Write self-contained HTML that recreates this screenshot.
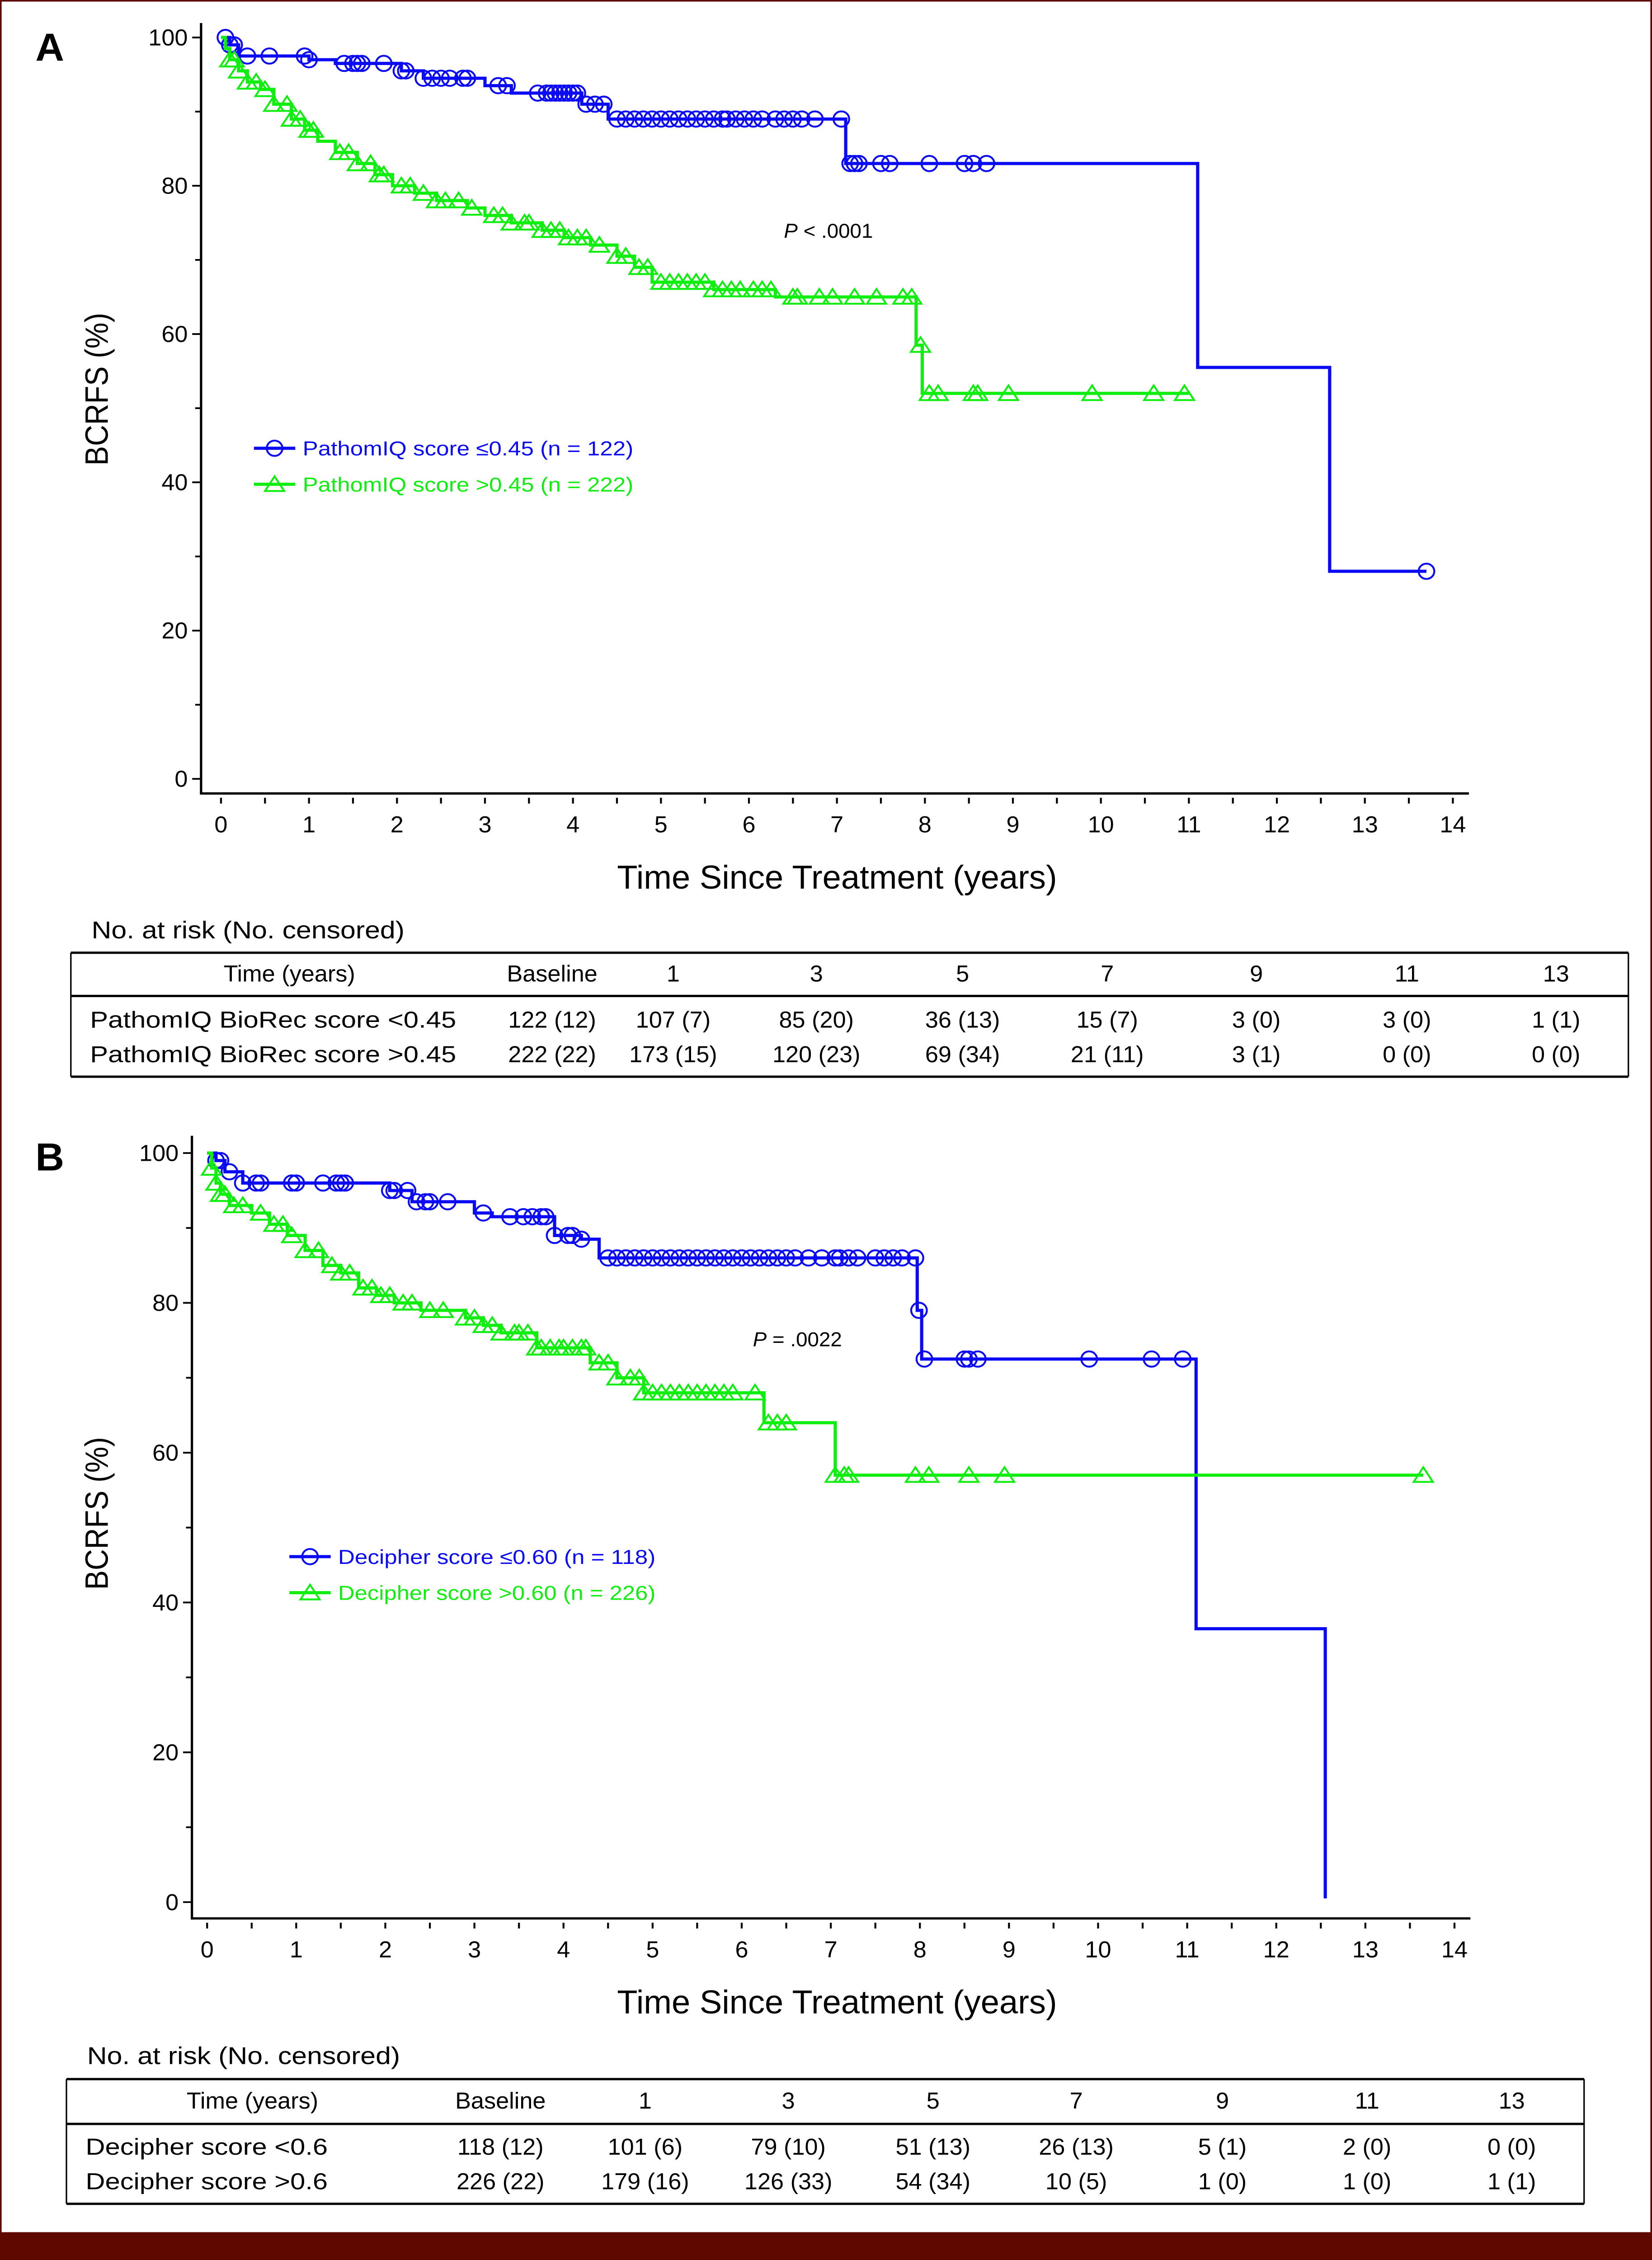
<!DOCTYPE html>
<html><head><meta charset="utf-8"><style>
html,body{margin:0;padding:0;background:#fff;width:100%;height:100%;overflow:hidden;}
svg{display:block;position:fixed;left:0;top:0;width:100vw;height:100vh;font-family:"Liberation Sans",sans-serif;}
</style></head><body>
<svg id="fig" viewBox="0 0 1119 1568" preserveAspectRatio="none" xmlns="http://www.w3.org/2000/svg">
<rect x="0" y="0" width="1119" height="1568" fill="#fff"/>
<rect x="0.5" y="0.5" width="1118" height="1566" fill="none" stroke="#5f0800" stroke-width="1.2"/>
<rect x="0" y="1548.7" width="1119" height="20" fill="#5f0800"/>
<g id="root"></g>
</svg>
<script>
// ===== Panel A data =====
const aBlueT=[0,0.1,0.2,1.0,1.3,2.05,2.3,3.0,3.3,4.1,4.4,7.1,11.1,12.6];
const aBlueS=[100,99,97.5,97,96.5,95.5,94.5,93.5,92.5,91,89,83,55.5,28];
const aBlueEnd=13.7;
const aBlueCens=[0.05,0.1,0.15,0.3,0.55,0.95,1.0,1.4,1.5,1.55,1.6,1.85,2.05,2.1,2.3,2.4,2.5,2.6,2.75,2.8,3.15,3.25,3.6,3.7,3.75,3.8,3.85,3.9,3.95,4.0,4.05,4.15,4.25,4.35,4.5,4.6,4.7,4.8,4.9,5.0,5.1,5.2,5.3,5.4,5.5,5.6,5.7,5.75,5.85,5.95,6.05,6.15,6.3,6.4,6.5,6.6,6.75,7.05,7.15,7.2,7.25,7.5,7.6,8.05,8.45,8.55,8.7,13.7];
const aGreenT=[0,0.05,0.1,0.2,0.3,0.45,0.6,0.8,0.95,1.1,1.3,1.55,1.75,1.95,2.2,2.45,2.8,3.0,3.3,3.65,3.9,4.2,4.5,4.7,4.9,5.6,6.3,7.9,7.97];
const aGreenS=[100,98.5,97,95.5,94,93,91,89,87.5,86,84.5,83,81.5,80,79,78,77,76,75,74,73,72,70.5,69,67,66,65,58.5,52];
const aGreenEnd=11.0;
const aGreenCens=[0.1,0.15,0.2,0.3,0.4,0.5,0.6,0.75,0.8,0.9,1.0,1.05,1.35,1.45,1.55,1.7,1.8,1.85,2.05,2.15,2.3,2.45,2.55,2.7,2.85,3.1,3.2,3.3,3.45,3.5,3.65,3.75,3.85,3.95,4.05,4.15,4.3,4.5,4.6,4.75,4.85,5.0,5.1,5.2,5.3,5.4,5.5,5.6,5.7,5.8,5.9,6.05,6.15,6.25,6.5,6.55,6.8,6.95,7.2,7.45,7.75,7.85,7.95,8.05,8.15,8.55,8.6,8.95,9.9,10.6,10.95];
// ===== Panel B data =====
const bBlueT=[0,0.1,0.2,0.4,2.05,2.3,3.0,3.2,3.9,4.2,4.4,7.97,8.02,11.1,12.55];
const bBlueS=[100,99,97.5,96,95,93.5,92,91.5,89,88.5,86,79,72.5,36.5,0.5];
const bBlueEnd=12.55;
const bBlueCens=[0.1,0.15,0.25,0.4,0.55,0.6,0.95,1.0,1.3,1.45,1.5,1.55,2.05,2.1,2.25,2.35,2.45,2.5,2.7,3.1,3.4,3.55,3.65,3.75,3.8,3.9,4.05,4.1,4.2,4.5,4.6,4.7,4.8,4.9,5.0,5.1,5.2,5.3,5.4,5.5,5.6,5.7,5.8,5.9,6.0,6.1,6.2,6.3,6.4,6.5,6.6,6.75,6.9,7.05,7.1,7.2,7.3,7.5,7.6,7.7,7.8,7.95,7.99,8.05,8.5,8.55,8.65,9.9,10.6,10.95];
const bGreenT=[0,0.05,0.1,0.15,0.25,0.5,0.7,0.9,1.1,1.3,1.5,1.7,1.9,2.1,2.4,2.9,3.1,3.3,3.7,4.3,4.6,4.9,6.25,7.05];
const bGreenS=[100,98,96,94.5,93,92,90.5,89,87,85,84,82,81,80,79,78,77,76,74,72,70,68,64,57];
const bGreenEnd=13.65;
const bGreenCens=[0.05,0.1,0.15,0.2,0.3,0.4,0.6,0.75,0.85,0.95,1.1,1.25,1.4,1.5,1.6,1.75,1.85,1.95,2.05,2.2,2.3,2.5,2.65,2.9,3.0,3.1,3.2,3.3,3.45,3.5,3.6,3.7,3.75,3.85,3.95,4.0,4.1,4.2,4.25,4.4,4.5,4.6,4.75,4.85,4.9,5.0,5.1,5.2,5.3,5.4,5.5,5.6,5.7,5.8,5.9,6.15,6.3,6.4,6.5,7.05,7.15,7.2,7.95,8.1,8.55,8.95,13.65];
// ===== Tick labels =====
const xTicks=[0,1,2,3,4,5,6,7,8,9,10,11,12,13,14];
const yTicks=[0,20,40,60,80,100];
// ===== Risk tables =====
const riskCols=["Baseline","1","3","5","7","9","11","13"];
const aRowLabels=["PathomIQ BioRec score <0.45","PathomIQ BioRec score >0.45"];
const aRow1=["122 (12)","107 (7)","85 (20)","36 (13)","15 (7)","3 (0)","3 (0)","1 (1)"];
const aRow2=["222 (22)","173 (15)","120 (23)","69 (34)","21 (11)","3 (1)","0 (0)","0 (0)"];
const bRowLabels=["Decipher score <0.6","Decipher score >0.6"];
const bRow1=["118 (12)","101 (6)","79 (10)","51 (13)","26 (13)","5 (1)","2 (0)","0 (0)"];
const bRow2=["226 (22)","179 (16)","126 (33)","54 (34)","10 (5)","1 (0)","1 (0)","1 (1)"];

const NS="http://www.w3.org/2000/svg";
const root=document.getElementById('root');
const BLUE="#0a0af5", GREEN="#10ee10";
function el(tag,attrs,parent){const e=document.createElementNS(NS,tag);for(const k in attrs)e.setAttribute(k,attrs[k]);(parent||root).appendChild(e);return e;}
function txt(s,x,y,size,opts,parent){opts=opts||{};const t=el('text',{x:x,y:y,'font-size':size,fill:opts.fill||'#000','text-anchor':opts.anchor||'start'},parent);
 if(opts.len){t.setAttribute('textLength',opts.len);t.setAttribute('lengthAdjust','spacingAndGlyphs');}
 if(opts.weight)t.setAttribute('font-weight',opts.weight);
 if(opts.transform)t.setAttribute('transform',opts.transform);
 t.textContent=s;return t;}
function circle(g,cx,cy,color){const c=el('circle',{cx:cx,cy:cy,r:5.3,fill:'none',stroke:color,'stroke-width':1.3},g);
 
 }
function tri(g,cx,cy,color){const h=5.5;const p=el('polygon',{points:`${cx},${cy-h} ${cx-6.5},${cy+h*0.85} ${cx+6.5},${cy+h*0.85}`,fill:'none',stroke:color,'stroke-width':1.3},g);
 
 }
function survAt(T,S,t){let s=S[0];for(let i=0;i<T.length;i++){if(T[i]<=t)s=S[i];}return s;}

function panel(cfg){
 const g=el('g',{});
 
 
 const X=t=>cfg.x0+t*cfg.px;
 const Y=v=>cfg.y0-v*cfg.py;
 const ax=el('g',{},g);
 
 
 el('line',{x1:cfg.ax,y1:cfg.axTop,x2:cfg.ax,y2:cfg.axY+0.8,stroke:'#000','stroke-width':1.6},ax);
 el('line',{x1:cfg.ax,y1:cfg.axY,x2:cfg.axRight,y2:cfg.axY,stroke:'#000','stroke-width':1.6},ax);
 for(let v=0;v<=100;v+=10){const major=v%20===0;
  el('line',{x1:cfg.ax-(major?6:4),y1:Y(v),x2:cfg.ax,y2:Y(v),stroke:'#000','stroke-width':1.2},ax);}
 yTicks.forEach(v=>{const t=txt(String(v),cfg.ax-9,Y(v)+5.5,16,{anchor:'end'},ax);
  
  });
 for(let t=0;t<=14;t+=0.5){el('line',{x1:X(t),y1:cfg.axY+3,x2:X(t),y2:cfg.axY+7,stroke:'#000','stroke-width':1.3},ax);}
 xTicks.forEach(v=>{const t=txt(String(v),X(v),cfg.axY+27,16,{anchor:'middle'},ax);
  
  });
 const xt=txt("Time Since Treatment (years)",cfg.xTitleX,cfg.axY+66,23,{anchor:'middle',len:298},g);
 
 
 const yt=txt("BCRFS (%)",0,0,22,{anchor:'middle',len:106,transform:`translate(73,${cfg.yTitleY}) rotate(-90)`},g);
 
 
 const lbl=txt(cfg.letter,24,cfg.letterY,27,{weight:'bold'},g);
 
 
 const pv=el('text',{x:cfg.pX,y:cfg.pY,'font-size':14},g);
 
 
 const ti=el('tspan',{'font-style':'italic'},pv);ti.textContent='P';
 const tr=el('tspan',{},pv);tr.textContent=cfg.pText;
 cfg.series.forEach(s=>{
  const sg=el('g',{},g);
  
  
  let d=`M${X(s.T[0])},${Y(s.S[0])}`;
  for(let i=1;i<s.T.length;i++){d+=` H${X(s.T[i])} V${Y(s.S[i])}`;}
  d+=` H${X(s.end)}`;
  const p=el('path',{d:d,fill:'none',stroke:s.color,'stroke-width':2.2},sg);
  
  
  s.C.forEach(t=>{const v=survAt(s.T,s.S,t);(s.mark==='c'?circle:tri)(sg,X(t),Y(v),s.color);});
 });
 const lg=el('g',{},g);
 
 
 cfg.legend.forEach((L,i)=>{const y=cfg.legY+i*25;
  const e=el('g',{},lg);
  
  
  el('line',{x1:cfg.legX,y1:y,x2:cfg.legX+28,y2:y,stroke:L.color,'stroke-width':2.2},e);
  (L.mark==='c'?circle:tri)(e,cfg.legX+14,y,L.color);
  txt(L.text,cfg.legX+33,y+5,14,{fill:L.color,len:cfg.legLen},e);});
 const tb=el('g',{},g);
 
 
 const R=cfg.table;
 const nr=txt("No. at risk (No. censored)",R.left+14,R.noY,17,{len:212},tb);
 
 
 el('line',{x1:R.left,y1:R.top,x2:R.right,y2:R.top,stroke:'#000','stroke-width':1.6},tb);
 el('line',{x1:R.left,y1:R.sep,x2:R.right,y2:R.sep,stroke:'#000','stroke-width':1.6},tb);
 el('line',{x1:R.left,y1:R.bottom,x2:R.right,y2:R.bottom,stroke:'#000','stroke-width':1.6},tb);
 el('line',{x1:R.left,y1:R.top,x2:R.left,y2:R.bottom,stroke:'#000','stroke-width':1},tb);
 el('line',{x1:R.right,y1:R.top,x2:R.right,y2:R.bottom,stroke:'#000','stroke-width':1},tb);
 txt("Time (years)",R.timeX,R.hY,16,{anchor:'middle'},tb);
 riskCols.forEach((c,i)=>txt(c,R.cols[i],R.hY,16,{anchor:'middle'},tb));
 [R.rows[0],R.rows[1]].forEach((row,ri)=>{
  const y=R.rY[ri];
  const rl=txt(R.labels[ri],R.left+13,y,16,{len:R.labLen},tb);
  
  
  row.forEach((v,i)=>txt(v,R.cols[i],y,16,{anchor:'middle'},tb));
 });
}

panel({name:'panel-a',letter:'A',letterY:42,x0:149.7,px:59.6,y0:540.4,py:5.144,ax:136.2,axTop:16,axY:550.5,axRight:995,
 xTitleX:567,yTitleY:270,pX:531,pY:165,pText:' < .0001',
 series:[{name:'series-pathomiq-low',T:aBlueT,S:aBlueS,end:aBlueEnd,C:aBlueCens,color:BLUE,mark:'c'},
         {name:'series-pathomiq-high',T:aGreenT,S:aGreenS,end:aGreenEnd,C:aGreenCens,color:GREEN,mark:'t'}],
 legX:172,legY:311,legLen:224,
 legend:[{text:"PathomIQ score ≤0.45 (n = 122)",color:BLUE,mark:'c'},{text:"PathomIQ score >0.45 (n = 222)",color:GREEN,mark:'t'}],
 table:{left:48,right:1103,top:661,sep:691,bottom:747,noY:651,hY:681,rY:[713,737],timeX:196,
  cols:[374,456,553,652,750,851,953,1054],labels:aRowLabels,rows:[aRow1,aRow2],labLen:248}
});
panel({name:'panel-b',letter:'B',letterY:812,x0:140.3,px:60.35,y0:1319.7,py:5.197,ax:130,axTop:788,axY:1331,axRight:996,
 xTitleX:567,yTitleY:1050,pX:510,pY:934,pText:' = .0022',
 series:[{name:'series-decipher-low',T:bBlueT,S:bBlueS,end:bBlueEnd,C:bBlueCens,color:BLUE,mark:'c'},
         {name:'series-decipher-high',T:bGreenT,S:bGreenS,end:bGreenEnd,C:bGreenCens,color:GREEN,mark:'t'}],
 legX:196,legY:1080,legLen:215,
 legend:[{text:"Decipher score ≤0.60 (n = 118)",color:BLUE,mark:'c'},{text:"Decipher score >0.60 (n = 226)",color:GREEN,mark:'t'}],
 table:{left:45,right:1073,top:1442.5,sep:1473.6,bottom:1529,noY:1432,hY:1463,rY:[1495,1519],timeX:171,
  cols:[339,437,534,632,729,828,926,1024],labels:bRowLabels,rows:[bRow1,bRow2],labLen:164}
});
</script>
</body></html>
